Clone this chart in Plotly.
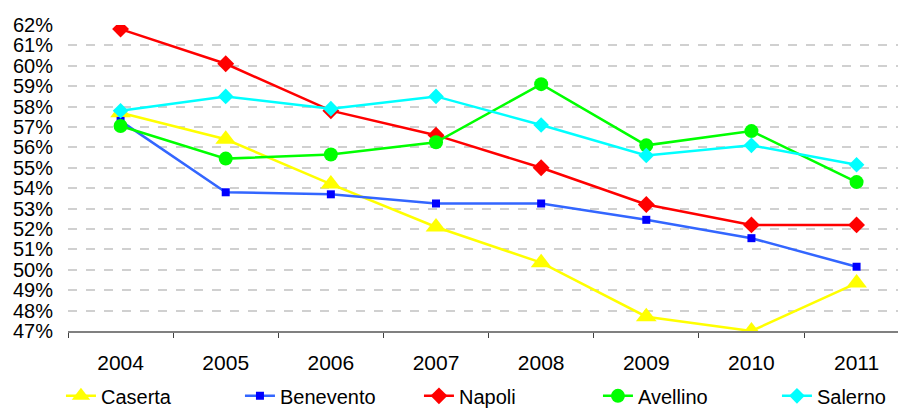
import plotly.graph_objects as go

years = ["2004", "2005", "2006", "2007", "2008", "2009", "2010", "2011"]
caserta = [57.7, 56.4, 54.2, 52.1, 50.35, 47.7, 47.0, 49.35]
benevento = [57.3, 53.8, 53.7, 53.25, 53.25, 52.45, 51.55, 50.15]
napoli = [61.8, 60.1, 57.8, 56.6, 55.0, 53.2, 52.2, 52.2]
avellino = [57.05, 55.45, 55.65, 56.25, 59.1, 56.1, 56.8, 54.3]
salerno = [57.8, 58.5, 57.9, 58.5, 57.1, 55.6, 56.1, 55.15]
y_ticks = list(range(47, 63))
y_labels = [f"{v}%" for v in y_ticks]

series = [
    ("Caserta", caserta, "#FFFF00", "#FFFF00", "triangle-up", 18),
    ("Benevento", benevento, "#3366FF", "#0000FF", "square", 8),
    ("Napoli", napoli, "#FF0000", "#FF0000", "diamond", 13),
    ("Avellino", avellino, "#00FF00", "#00FF00", "circle", 14),
    ("Salerno", salerno, "#00FFFF", "#00FFFF", "diamond", 12),
]

fig = go.Figure()
for name, vals, lc, mc, sym, sz in series:
    fig.add_trace(go.Scatter(
        x=years, y=vals, name=name, mode="lines+markers",
        line=dict(color=lc, width=2.5),
        marker=dict(symbol=sym, size=sz, color=mc, line=dict(width=0)),
    ))

fig.update_layout(
    width=898, height=402,
    margin=dict(l=60, r=0, t=17, b=79, autoexpand=False),
    paper_bgcolor="white", plot_bgcolor="white",
    font=dict(family="Liberation Sans, Arial, sans-serif", size=21, color="#000000"),
    showlegend=True,
    legend=dict(orientation="h", x=-0.0084, y=-0.212, xanchor="left", yanchor="middle",
                font=dict(size=20), traceorder="normal",
                entrywidth=134, entrywidthmode="pixels",
                bgcolor="rgba(0,0,0,0)"),
    xaxis=dict(type="category", range=[-0.5, 7.47], showgrid=False, automargin=False,
               showline=True, linecolor="#808080", linewidth=2,
               ticks="outside", tickson="boundaries", ticklen=5, tickcolor="#404040",
               tickwidth=1, ticklabelstandoff=12, zeroline=False),
    yaxis=dict(range=[47, 62], tickvals=y_ticks, ticktext=y_labels, automargin=False,
               tickfont=dict(size=20),
               showgrid=True, gridcolor="#D0D0D0", griddash="dash", gridwidth=1.5,
               showline=False, zeroline=False, ticks="", ticklabelstandoff=14),
)

fig.write_html("out.html")
